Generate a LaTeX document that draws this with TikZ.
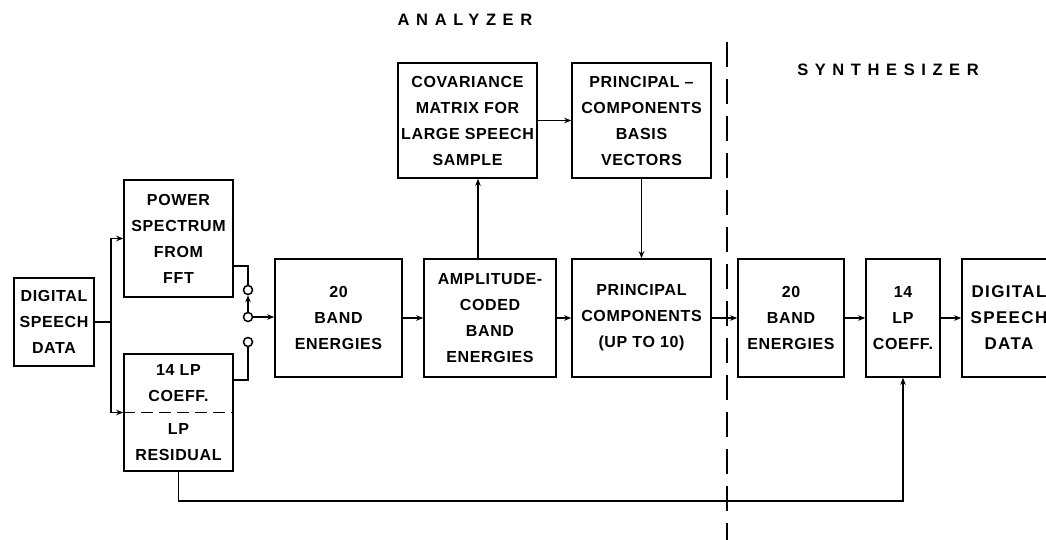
\documentclass[tikz,border=0pt]{standalone}
\usepackage{fontspec}
\setmainfont{Liberation Sans}[LetterSpace=4]
\usetikzlibrary{arrows.meta}
\begin{document}
\begin{tikzpicture}[x=1pt,y=-1pt,
  box/.style={draw, line width=1.6pt, inner sep=0pt, align=center, font=\fontsize{16}{26}\selectfont\bfseries},
  txt/.style={inner sep=0pt, align=center, font=\fontsize{16}{26}\selectfont\bfseries},
  sw/.style={circle, draw, line width=1.5pt, minimum size=9pt, inner sep=0pt, fill=white},
  conn/.style={line width=1.6pt},
  arr/.style={conn, -{Stealth[length=7pt,width=5.5pt]}},
  ttl/.style={inner sep=0pt, font=\fontsize{16.5}{20}\selectfont\bfseries\addfontfeature{LetterSpace=40}}]
\useasboundingbox (0,0) rectangle (1046,540);
\clip (0,0) rectangle (1046,540);

% titles
\node[ttl] (tana) at (465,20) {ANALYZER};
\node[ttl] (tsyn) at (888,70) {SYNTHESIZER};

% analyzer boxes
\node[box, minimum width=80pt, minimum height=88pt] (dsd) at (54,322) {DIGITAL\\SPEECH\\DATA};
\node[box, minimum width=109pt, minimum height=117pt] (ps) at (178.5,238.5) {POWER\\SPECTRUM\\FROM\\FFT};
\node[box, minimum width=109pt, minimum height=117pt] (lp) at (178.5,412.5) {};
\node[txt] (lpa) at (178.5,383.5) {14 LP\\COEFF.};
\node[txt] (lpb) at (178.5,442) {LP\\RESIDUAL};
\draw[line width=1.4pt, dash pattern=on 12pt off 6pt] (lp.west) -- (lp.east);

\node[box, minimum width=127pt, minimum height=118pt] (be) at (338.5,318) {20\\BAND\\ENERGIES};
\node[box, minimum width=132pt, minimum height=118pt] (amp) at (490,318) {AMPLITUDE-\\CODED\\BAND\\ENERGIES};
\node[box, minimum width=139pt, minimum height=118pt] (pc) at (641.5,318) {PRINCIPAL\\COMPONENTS\\(UP TO 10)};
\node[box, minimum width=139pt, minimum height=115pt] (cov) at (467.5,120.5) {COVARIANCE\\MATRIX FOR\\LARGE SPEECH\\SAMPLE};
\node[box, minimum width=139pt, minimum height=115pt] (pcb) at (641.5,120.5) {PRINCIPAL --\\COMPONENTS\\BASIS\\VECTORS};

% synthesizer boxes
\node[box, minimum width=106pt, minimum height=118pt] (sbe) at (791,318) {20\\BAND\\ENERGIES};
\node[box, minimum width=74pt, minimum height=118pt] (slp) at (903,318) {14\\LP\\COEFF.};
\node[box, minimum width=96pt, minimum height=118pt] (sdsd) at (1010,318) {};
\node[txt, font=\fontsize{17}{26}\selectfont\bfseries\addfontfeature{LetterSpace=8}] (sdsdt) at (1009,318) {DIGITAL\\SPEECH\\DATA};

% switch
\node[sw] (s1) at (248,290) {};
\node[sw] (s2) at (248,317) {};
\node[sw] (s3) at (248,342) {};

% divider
\coordinate (dtop) at (727,42);
\coordinate (dbot) at (727,545);
\draw[line width=1.6pt, dash pattern=on 25pt off 12pt] (dtop) -- (dbot);

% connectors
\coordinate (br) at (111,322);
\draw[conn] (dsd.east) -- (br);
\draw[arr] (br) |- (ps.west);
\draw[arr] (br) |- (lp.west);
\draw[conn] ([yshift=-27.5pt]ps.east) -| (s1.north);
\draw[conn] ([yshift=32.5pt]lp.east) -| (s3.south);
\draw[arr] (s2.north) -- (s1.south);
\draw[arr] (s2.east) -- (s2.east -| be.west);
\draw[arr] (be.east) -- (amp.west);
\draw[arr] ([xshift=-12pt]amp.north) -- ([xshift=-12pt]amp.north |- cov.south);
\draw[arr] (cov.east) -- (pcb.west);
\draw[arr] (pcb.south) -- (pc.north);
\draw[arr] (amp.east) -- (pc.west);
\draw[arr] (pc.east) -- (sbe.west);
\draw[arr] (sbe.east) -- (slp.west);
\draw[arr] (slp.east) -- (sdsd.west);
\coordinate (fb) at (0,501);
\draw[arr] (lp.south) -- (lp.south |- fb) -| (slp.south);
\end{tikzpicture}
\end{document}
